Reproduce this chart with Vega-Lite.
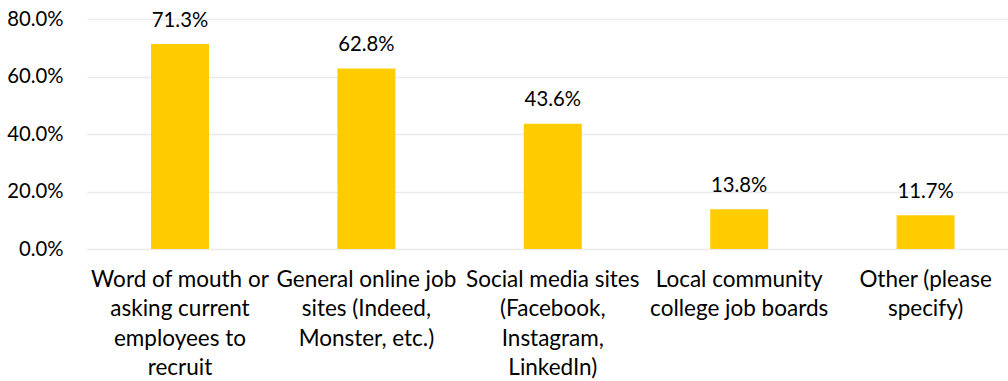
{
  "$schema": "https://vega.github.io/schema/vega-lite/v6.json",
  "width": 921,
  "height": 230,
  "autosize": {"type": "none"},
  "padding": {"left": 87, "top": 19, "right": 0, "bottom": 132},
  "background": "white",
  "config": {
    "view": {"stroke": null},
    "font": "Lato",
    "axis": {"labelFont": "Lato", "labelColor": "#000000"}
  },
  "data": {
    "values": [
      {"category": "Word of mouth or\nasking current\nemployees to\nrecruit", "value": 0.713},
      {"category": "General online job\nsites (Indeed,\nMonster, etc.)", "value": 0.628},
      {"category": "Social media sites\n(Facebook,\nInstagram,\nLinkedIn)", "value": 0.436},
      {"category": "Local community\ncollege job boards", "value": 0.138},
      {"category": "Other (please\nspecify)", "value": 0.117}
    ]
  },
  "encoding": {
    "x": {
      "field": "category",
      "type": "nominal",
      "sort": null,
      "scale": {"paddingInner": 0.689, "paddingOuter": 0.315, "align": 0.545},
      "axis": {
        "title": null,
        "labelAngle": 0,
        "labelExpr": "split(datum.value, '\\n')",
        "labelFontSize": 22.5,
        "labelLineHeight": 29.5,
        "labelPadding": 19,
        "labelLimit": 0,
        "labelOverlap": false,
        "ticks": false,
        "domain": false,
        "grid": false
      }
    },
    "y": {
      "field": "value",
      "type": "quantitative",
      "scale": {"domain": [0, 0.8], "nice": false},
      "axis": {
        "title": null,
        "format": ".1%",
        "values": [0, 0.2, 0.4, 0.6, 0.8],
        "labelFontSize": 20.3,
        "ticks": false,
        "domain": false,
        "labelPadding": 24,
        "grid": true,
        "gridColor": "#ebebeb",
        "gridWidth": 1.5
      }
    }
  },
  "layer": [
    {"mark": {"type": "bar", "color": "#FFCC00"}},
    {
      "mark": {"type": "text", "baseline": "alphabetic", "dy": -17.5, "fontSize": 20.3, "font": "Lato", "color": "#000000"},
      "encoding": {"text": {"field": "value", "type": "quantitative", "format": ".1%"}}
    }
  ]
}
